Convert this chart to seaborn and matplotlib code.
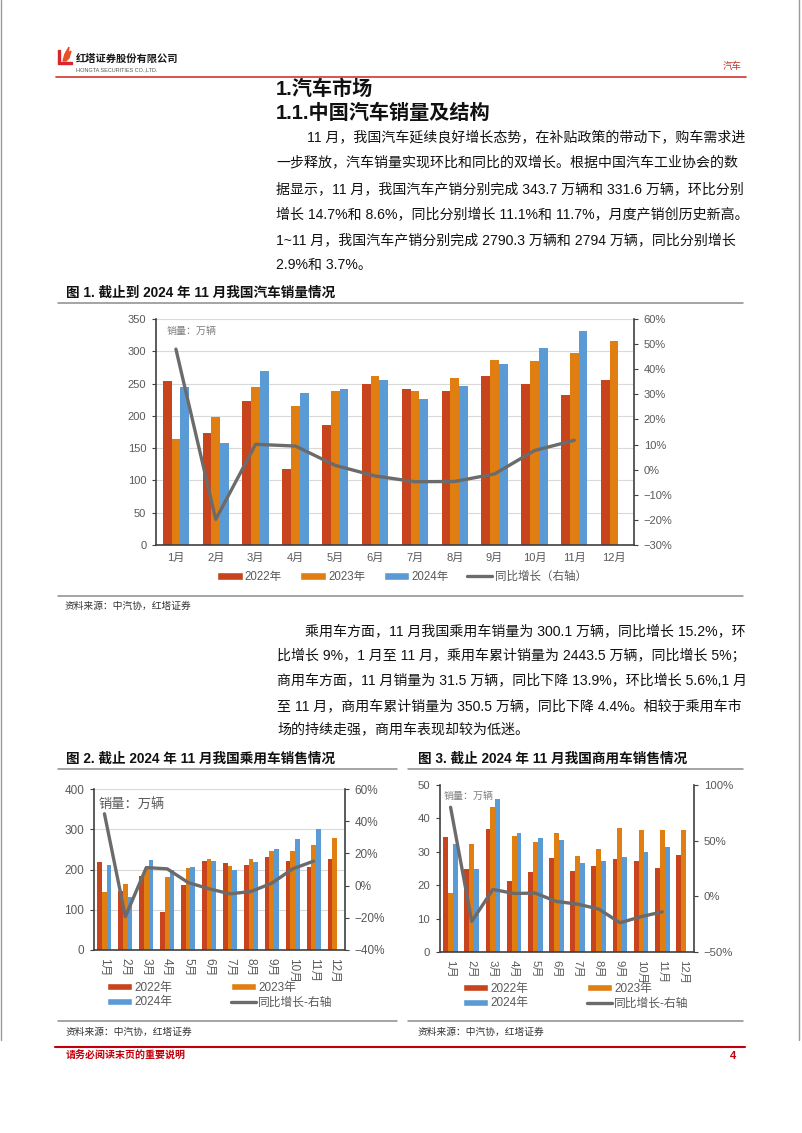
import numpy as np
import pandas as pd
import matplotlib
matplotlib.use("Agg")
import matplotlib.pyplot as plt
import seaborn as sns
from matplotlib.patches import Patch, Polygon
from matplotlib.lines import Line2D
from matplotlib.ticker import FuncFormatter, MultipleLocator

# ---------------- data ----------------
months = ["1月", "2月", "3月", "4月", "5月", "6月", "7月", "8月", "9月", "10月", "11月", "12月"]
years = ["2022年", "2023年", "2024年"]

total_2022 = [253.5, 174, 223.5, 118, 186, 250, 242, 238, 261, 250, 232, 255.5]
total_2023 = [164.7, 197.7, 245, 216, 238, 262, 238.5, 258, 286, 285, 297, 315.4]
total_2024 = [244, 158.5, 269.5, 236, 241.6, 255, 226, 245.7, 281, 305, 331.6]
total_yoy = [48.0, -19.8, 10.1, 9.4, 1.7, -2.5, -4.8, -4.7, -1.7, 7.6, 11.7]

pass_2022 = [218, 147, 184, 95.4, 162, 221.6, 216.6, 211.6, 232, 222, 206, 225.7]
pass_2023 = [145, 165, 201, 181, 204, 225.7, 209, 226.6, 247, 247, 260, 278.8]
pass_2024 = [211, 132, 223, 199, 207, 220.7, 199, 217.4, 252, 274.7, 300.1]
pass_yoy = [44.6, -19.3, 11.2, 10.4, 1.9, -2.0, -5.1, -3.7, 1.5, 10.4, 15.2]

comm_2022 = [34.4, 24.8, 36.9, 21.4, 23.9, 28.0, 24.4, 25.7, 27.8, 27.3, 25.1, 29.1]
comm_2023 = [17.8, 32.4, 43.3, 34.7, 33.0, 35.5, 28.7, 30.9, 37.1, 36.4, 36.5, 36.4]
comm_2024 = [32.4, 24.9, 45.7, 35.7, 34.1, 33.6, 26.7, 27.2, 28.3, 29.8, 31.5]
comm_yoy = [80.0, -22.5, 6.2, 2.6, 2.9, -4.6, -7.0, -11.4, -23.7, -18.3, -13.9]

para1 = [
    "11 月，我国汽车延续良好增长态势，在补贴政策的带动下，购车需求进",
    "一步释放，汽车销量实现环比和同比的双增长。根据中国汽车工业协会的数",
    "据显示，11 月，我国汽车产销分别完成 343.7 万辆和 331.6 万辆，环比分别",
    "增长 14.7%和 8.6%，同比分别增长 11.1%和 11.7%，月度产销创历史新高。",
    "1~11 月，我国汽车产销分别完成 2790.3 万辆和 2794 万辆，同比分别增长",
    "2.9%和 3.7%。",
]
para2 = [
    "乘用车方面，11 月我国乘用车销量为 300.1 万辆，同比增长 15.2%，环",
    "比增长 9%，1 月至 11 月，乘用车累计销量为 2443.5 万辆，同比增长 5%；",
    "商用车方面，11 月销量为 31.5 万辆，同比下降 13.9%，环比增长 5.6%,1 月",
    "至 11 月，商用车累计销量为 350.5 万辆，同比下降 4.4%。相较于乘用车市",
    "场的持续走强，商用车表现却较为低迷。",
]

# ---------------- style ----------------
sns.set_theme(style="white")
FAM = ["Liberation Sans", "Noto Sans CJK SC", "DejaVu Sans"]
plt.rcParams["font.family"] = FAM
plt.rcParams["axes.unicode_minus"] = True

C22, C23, C24 = "#C8441C", "#E07E12", "#5B9BD5"
CLINE = "#6B6B6B"
TXT = "#595959"
AXC = "#404040"

W, H = 802, 1133
fig = plt.figure(figsize=(W / 100, H / 100), dpi=100)
fig.patch.set_facecolor("white")


def fx(x):
    return x / W


def fy(y):
    return 1 - y / H


def hline(x0, x1, y, color, lw):
    fig.add_artist(Line2D([fx(x0), fx(x1)], [fy(y), fy(y)], color=color, lw=lw,
                          transform=fig.transFigure))


def txt(x, y, s, size, color="#111111", weight="normal", ha="left", va="center"):
    fig.text(fx(x), fy(y), s, fontsize=size, color=color, fontweight=weight,
             ha=ha, va=va, family=FAM)


def make_df(a, b, c):
    rows = []
    for yr, vals in zip(years, [a, b, c]):
        for m, v in zip(months, vals):
            rows.append({"month": m, "year": yr, "value": v})
    return pd.DataFrame(rows)


pct = FuncFormatter(lambda v, _: f"{v:.0f}%".replace("-", "\u2212"))


def draw_chart(rect, df, yoy, ylim, ystep, y2lim, y2step, grid, rot, fs, width, lw):
    x0, y0, x1, y1 = rect
    ax = fig.add_axes([fx(x0), fy(y1), (x1 - x0) / W, (y1 - y0) / H])
    sns.barplot(data=df, x="month", y="value", hue="year", order=months,
                hue_order=years, palette=[C22, C23, C24], width=width,
                saturation=1, legend=False, linewidth=0, edgecolor="none", ax=ax)
    ax.set_xlabel("")
    ax.set_ylabel("")
    ax.set_ylim(*ylim)
    ax.yaxis.set_major_locator(MultipleLocator(ystep))
    if grid:
        ax.yaxis.grid(True, color="#D9D9D9", lw=0.8)
    ax.set_axisbelow(True)
    for s in ["top", "right"]:
        ax.spines[s].set_visible(False)
    for s in ["left", "bottom"]:
        ax.spines[s].set_color(AXC)
        ax.spines[s].set_linewidth(1.2)
    ax.tick_params(axis="y", length=3, width=0.8, color=AXC, labelcolor=TXT,
                   labelsize=fs, pad=4, left=True)
    ax.tick_params(axis="x", length=0, labelcolor=TXT, labelsize=fs, pad=6)
    if rot:
        for lab in ax.get_xticklabels():
            lab.set_rotation(-90)
            lab.set_va("top")
            lab.set_ha("center")

    ax2 = ax.twinx()
    sns.lineplot(x=np.arange(len(yoy)), y=yoy, color=CLINE, lw=lw, ax=ax2)
    ax2.set_ylim(*y2lim)
    ax2.yaxis.set_major_locator(MultipleLocator(y2step))
    ax2.yaxis.set_major_formatter(pct)
    for s in ["top", "left", "bottom"]:
        ax2.spines[s].set_visible(False)
    ax2.spines["right"].set_color(AXC)
    ax2.spines["right"].set_linewidth(1.2)
    ax2.tick_params(axis="y", length=3, width=0.8, color=AXC, labelcolor=TXT,
                    labelsize=fs, pad=4, right=True)
    ax2.set_ylabel("")
    ax.set_xlim(-0.5, len(months) - 0.5)
    return ax, ax2


def handles(line_label):
    return [Patch(facecolor=C22, label="2022年"),
            Patch(facecolor=C23, label="2023年"),
            Patch(facecolor=C24, label="2024年"),
            Line2D([], [], color=CLINE, lw=2.4, label=line_label)]

# ---------------- page decorations ----------------
fig.add_artist(Line2D([fx(1), fx(1)], [fy(0), fy(1040)], color="#9A9A9A", lw=1,
                      transform=fig.transFigure))
fig.add_artist(Line2D([fx(799), fx(799)], [fy(0), fy(1040)], color="#9A9A9A", lw=1,
                      transform=fig.transFigure))

# logo
fig.add_artist(Polygon([[fx(58), fy(50)], [fx(58), fy(64)], [fx(72), fy(64)], [fx(72), fy(62)],
                        [fx(60), fy(62)], [fx(60), fy(50)]], closed=True, color="#D8262C",
                       transform=fig.transFigure))
fig.add_artist(Polygon([[fx(63), fy(61)], [fx(65), fy(54)], [fx(69), fy(47)], [fx(68), fy(53)],
                        [fx(71), fy(51)], [fx(69), fy(58)], [fx(66), fy(61)]], closed=True,
                       color="#E8502A", transform=fig.transFigure))
txt(76, 59, "红塔证券股份有限公司", 7.4, color="#1A1A1A", weight="bold")
txt(76, 69.5, "HONGTA SECURITIES CO.,LTD.", 4.0, color="#555555")
txt(742, 66, "汽车", 6.8, color="#C0392B", ha="right")
hline(56, 746, 77, "#D64541", 1.3)

# headings
txt(276, 89, "1.汽车市场", 14.5, weight="bold")
txt(276, 113, "1.1.中国汽车销量及结构", 14.5, weight="bold")

# paragraph 1
ys1 = [138, 163.5, 189, 214.5, 240, 265.5]
for i, (line, yy) in enumerate(zip(para1, ys1)):
    txt(307 if i == 0 else 276, yy, line, 10.05)

# figure 1
txt(66, 292.5, "图 1. 截止到 2024 年 11 月我国汽车销量情况", 9.8, weight="bold")
hline(58, 743, 302.5, "#8C8C8C", 1.1)
ax1, ax1b = draw_chart((156, 319, 634, 545), make_df(total_2022, total_2023, total_2024),
                       total_yoy, (0, 350), 50, (-30, 60), 10, True, False, 8, 0.66, 2.4)
txt(167, 331, "销量：万辆", 7.2, color="#7F7F7F")
ax1.legend(handles=handles("同比增长（右轴）"), loc="center", ncol=4, frameon=False,
           bbox_to_anchor=(fx(402), fy(577)), bbox_transform=fig.transFigure,
           fontsize=8.3, labelcolor=TXT, handlelength=2.2, handleheight=0.6,
           handletextpad=0.2, columnspacing=1.6)
hline(58, 743, 596, "#8C8C8C", 1.1)
txt(65, 606, "资料来源：中汽协，红塔证券", 7.0, color="#333333")

# paragraph 2
ys2 = [631, 656, 681, 706, 730.5]
for i, (line, yy) in enumerate(zip(para2, ys2)):
    txt(305 if i == 0 else 277, yy, line, 10.05)

# figure 2
txt(66, 759, "图 2. 截止 2024 年 11 月我国乘用车销售情况", 9.8, weight="bold")
hline(58, 397, 769, "#8C8C8C", 1.1)
ax2a, ax2b = draw_chart((94, 789, 345, 950), make_df(pass_2022, pass_2023, pass_2024),
                        pass_yoy, (0, 400), 100, (-40, 60), 20, True, True, 8.5, 0.67, 2.4)
txt(98, 804, "销量：万辆", 9.5, color="#595959")
h = handles("同比增长-右轴")
ax2a.legend(handles=[h[0], h[2], h[1], h[3]], loc="center", ncol=2, frameon=False,
            bbox_to_anchor=(fx(220), fy(995)), bbox_transform=fig.transFigure,
            fontsize=8.5, labelcolor=TXT, handlelength=2.1, handleheight=0.6,
            handletextpad=0.2, columnspacing=5.0, labelspacing=0.25)
hline(58, 397, 1021, "#8C8C8C", 1.1)
txt(66, 1032, "资料来源：中汽协，红塔证券", 7.0, color="#333333")

# figure 3
txt(418, 759, "图 3. 截止 2024 年 11 月我国商用车销售情况", 9.8, weight="bold")
hline(408, 743, 769, "#8C8C8C", 1.1)
ax3a, ax3b = draw_chart((440, 785, 694, 952), make_df(comm_2022, comm_2023, comm_2024),
                        comm_yoy, (0, 50), 10, (-50, 100), 50, False, True, 8.2, 0.7, 2.4)
txt(444, 796, "销量：万辆", 7.2, color="#7F7F7F")
h = handles("同比增长-右轴")
ax3a.legend(handles=[h[0], h[2], h[1], h[3]], loc="center", ncol=2, frameon=False,
            bbox_to_anchor=(fx(576), fy(996)), bbox_transform=fig.transFigure,
            fontsize=8.5, labelcolor=TXT, handlelength=2.1, handleheight=0.6,
            handletextpad=0.2, columnspacing=5.0, labelspacing=0.25)
hline(408, 743, 1021, "#8C8C8C", 1.1)
txt(418, 1032, "资料来源：中汽协，红塔证券", 7.0, color="#333333")

# footer
hline(55, 745, 1047, "#C0000A", 1.5)
txt(66, 1056, "请务必阅读末页的重要说明", 7.2, color="#C0000A", weight="bold")
txt(736, 1056, "4", 8, color="#C0000A", weight="bold", ha="right")

fig.savefig("out.png", dpi=100, facecolor="white")
